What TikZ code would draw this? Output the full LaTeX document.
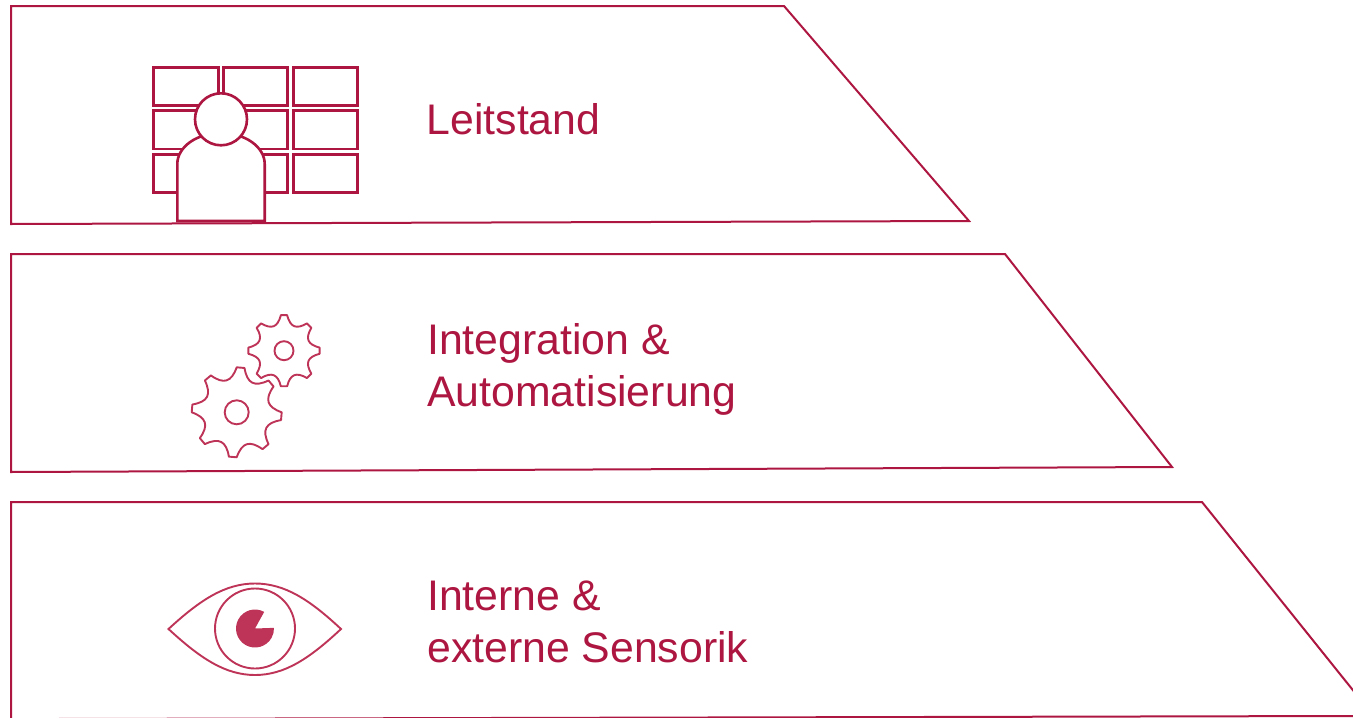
\documentclass[tikz,border=0pt]{standalone}
\usepackage{fontspec}
\setmainfont{Liberation Sans}
\definecolor{wine}{HTML}{AD1640}
\definecolor{winesoft}{HTML}{BE3458}
\tikzset{
  panel/.style={draw=wine,line width=2pt,line join=miter},
  screen/.style={draw=wine,line width=2.6pt},
  figure/.style={draw=wine,line width=2.6pt,fill=white},
  softline/.style={draw=winesoft,line width=1.9pt},
  label/.style={text=wine,font=\fontsize{42.8}{52}\selectfont,align=left,anchor=west,inner sep=0pt},
  pics/gear/.style n args={3}{code={
    \draw[softline,line join=round]
      (#1-5:#2) \foreach \a in {0,45,...,315} {
        -- (\a+#1+5:#2)
        .. controls (\a+#1+15:0.68*#2) and (\a+#1+30:0.68*#2) .. (\a+#1+40:#2)
      } -- cycle;
    \draw[softline] (0,0) circle[radius=#3];
  }}
}
\begin{document}
\begin{tikzpicture}[x=1pt,y=-1pt]
\useasboundingbox (0,0) rectangle (1353,718);
\clip (0,0) rectangle (1353,718);
% panels
\draw[panel] (11,6) -- (784,6) -- (969,221) -- (11,224) -- cycle;
\draw[panel] (11,254) -- (1005,254) -- (1172,467) -- (11,472) -- cycle;
\draw[panel] (11,720) -- (11,502) -- (1202,502) -- (1356,694);
\draw[panel] (55,719) -- (1353,716);
% control room
\foreach \xa/\xb in {153.5/218.3,223.5/287.7,293.5/357.3}
  \foreach \ya/\yb in {67.3/105.7,110.7/149,154.3/192.7}
    \draw[screen] (\xa,\ya) rectangle (\xb,\yb);
\draw[figure] (177.3,221) -- (177.3,164) arc[start angle=180,end angle=360,x radius=43.7,y radius=31] -- (264.7,221) -- cycle;
\draw[figure] (221,119.3) circle[radius=26];
\node[label] (leit) at (426.5,119) {Leitstand};
% gears
\begin{scope}[shift={(284,350.7)},y=1pt]
  \pic {gear={0}{35.7}{9.5}};
\end{scope}
\begin{scope}[shift={(236.7,412.3)},y=1pt]
  \pic {gear={-5}{45}{12}};
\end{scope}
\node[label] (integ) at (427,369) {Integration \&\\Automatisierung};
% eye
\draw[softline] (168.5,629) .. controls (200,600) and (225,583.5) .. (255,583.5)
  .. controls (285,583.5) and (310,600) .. (341,629)
  .. controls (310,658) and (285,675) .. (255,675)
  .. controls (225,675) and (200,658) .. (168.5,629) -- cycle;
\draw[softline] (255,628.5) circle[radius=40];
\begin{scope}[shift={(255,628.5)},y=1pt]
  \fill[winesoft] (0,0) -- (61:19) arc[start angle=61,end angle=362,radius=19] -- cycle;
\end{scope}
\node[label] (sens) at (427,622) {Interne \&\\externe Sensorik};
\end{tikzpicture}
\end{document}
